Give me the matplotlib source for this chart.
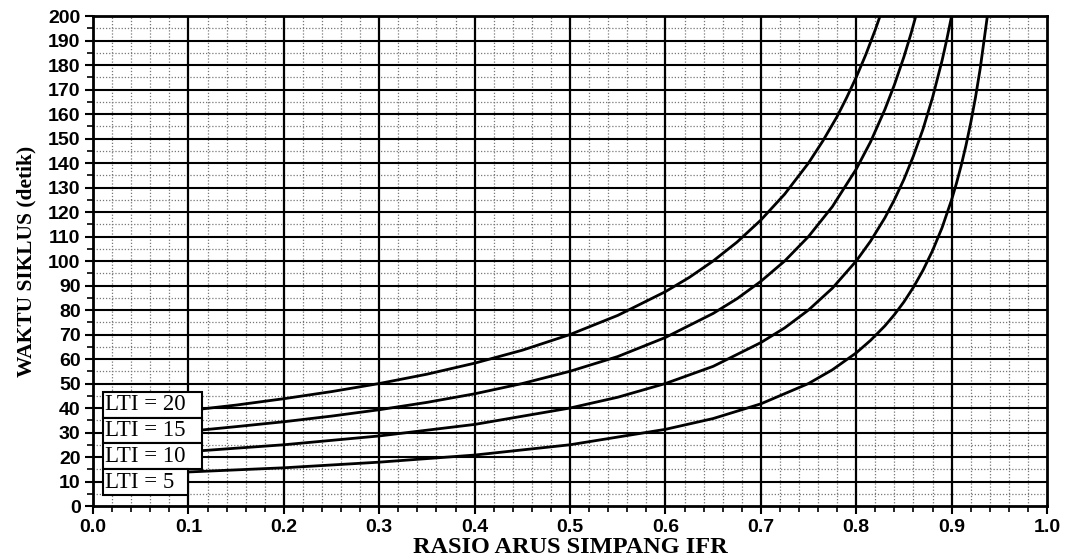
import matplotlib.pyplot as plt
import numpy as np

# nilai (IFR vs waktu siklus)
ifr_20 = [0.1, 0.15, 0.2, 0.25, 0.3, 0.35, 0.4, 0.45, 0.5, 0.55, 0.6, 0.625, 0.65, 0.675, 0.7, 0.725,
          0.75, 0.765, 0.78, 0.79, 0.8, 0.81, 0.82, 0.825]
c_20 = [39, 41.2, 43.8, 46.7, 50, 53.8, 58.3, 63.6, 70, 77.8, 87.5, 93.3, 100, 107.7, 116.7, 127.3,
        140, 149, 159, 166.7, 175, 184.2, 194.4, 200]

ifr_15 = [0.1, 0.15, 0.2, 0.25, 0.3, 0.35, 0.4, 0.45, 0.5, 0.55, 0.6, 0.65, 0.675, 0.7, 0.725, 0.75,
          0.775, 0.8, 0.815, 0.83, 0.84, 0.85, 0.8575, 0.8625]
c_15 = [30.5, 32.4, 34.4, 36.7, 39.3, 42.3, 45.8, 50, 55, 61, 68.8, 78.6, 84.6, 91.7, 100, 110,
        122.2, 137.5, 148.6, 161.8, 171.9, 183.3, 192.9, 200]

ifr_10 = [0.1, 0.2, 0.3, 0.4, 0.5, 0.55, 0.6, 0.65, 0.7, 0.725, 0.75, 0.775, 0.8, 0.815, 0.83, 0.84,
          0.85, 0.86, 0.87, 0.88, 0.89, 0.895, 0.9]
c_10 = [22.2, 25, 28.6, 33.3, 40, 44.4, 50, 57, 66.7, 72.7, 80, 88.9, 100, 108.1, 117.6, 125,
        133.3, 142.9, 153.8, 166.7, 181.8, 190.5, 200]

ifr_5 = [0.1, 0.2, 0.3, 0.4, 0.5, 0.6, 0.65, 0.7, 0.75, 0.775, 0.8, 0.815, 0.83, 0.84, 0.85, 0.86,
         0.87, 0.88, 0.89, 0.9, 0.905, 0.91, 0.915, 0.92, 0.925, 0.93, 0.9375]
c_5 = [13.9, 15.6, 17.9, 20.8, 25, 31.3, 35.7, 41.7, 50, 55.6, 62.5, 67.6, 73.5, 78.1, 83.3, 89.3,
       96.2, 104.2, 113.6, 125, 131.6, 138.9, 147.1, 156.3, 166.7, 178.6, 200]

labels = ['LTI = 20', 'LTI = 15', 'LTI = 10', 'LTI = 5']
# kotak label: (x0, x1, y0, y1)
boxes = [(0.01, 0.114, 36, 46.5), (0.01, 0.114, 25.7, 36), (0.01, 0.114, 15, 25.7), (0.01, 0.1, 4.5, 15)]

fig = plt.figure(figsize=(10.7, 5.6), dpi=100)
ax = fig.add_axes([0.087, 0.0964, 0.8915, 0.875])

ax.set_xlim(0, 1.0)
ax.set_ylim(0, 200)

# grid halus (titik-titik)
for x in np.arange(0.02, 1.0, 0.02):
    if abs(x * 10 - round(x * 10)) > 1e-6:
        ax.axvline(x, color='#777777', lw=0.9, ls=(0, (1, 1.5)), zorder=1)
for y in np.arange(5, 200, 10):
    ax.axhline(y, color='#777777', lw=0.9, ls=(0, (1, 1.5)), zorder=1)
# grid utama
for x in np.arange(0.1, 1.0, 0.1):
    ax.axvline(x, color='black', lw=1.6, zorder=2)
for y in np.arange(10, 200, 10):
    ax.axhline(y, color='black', lw=1.5, zorder=2)

for xs, ys in [(ifr_20, c_20), (ifr_15, c_15), (ifr_10, c_10), (ifr_5, c_5)]:
    ax.plot(xs, ys, color='black', lw=2, zorder=3)

for lab, (x0, x1, y0, y1) in zip(labels, boxes):
    ax.add_patch(plt.Rectangle((x0, y0), x1 - x0, y1 - y0, facecolor='white',
                               edgecolor='black', lw=1.5, zorder=4))
    ax.text(x0 + 0.002, (y0 + y1) / 2, lab, fontsize=16.5, family='Liberation Serif',
            va='center', ha='left', zorder=5)

ax.set_xticks(np.arange(0, 1.01, 0.1))
ax.set_xticklabels(['%.1f' % v for v in np.arange(0, 1.01, 0.1)])
ax.set_xticks(np.arange(0, 1.01, 0.02), minor=True)
ax.set_yticks(np.arange(0, 201, 10))
ax.set_yticks(np.arange(0, 201, 5), minor=True)
ax.tick_params(which='major', length=6, width=1.5, labelsize=14, pad=3)
ax.tick_params(which='minor', length=4, width=1.2)
for t in ax.get_xticklabels() + ax.get_yticklabels():
    t.set_fontweight('bold')
    t.set_family('Liberation Sans')

for s in ax.spines.values():
    s.set_linewidth(2)

ax.set_xlabel('RASIO ARUS SIMPANG IFR', fontsize=17.5, family='Liberation Serif',
              fontweight='bold', labelpad=1)
ax.set_ylabel('WAKTU SIKLUS (detik)', fontsize=15.5, family='Liberation Serif',
              fontweight='bold', labelpad=8)

fig.savefig('out.png', dpi=100)
